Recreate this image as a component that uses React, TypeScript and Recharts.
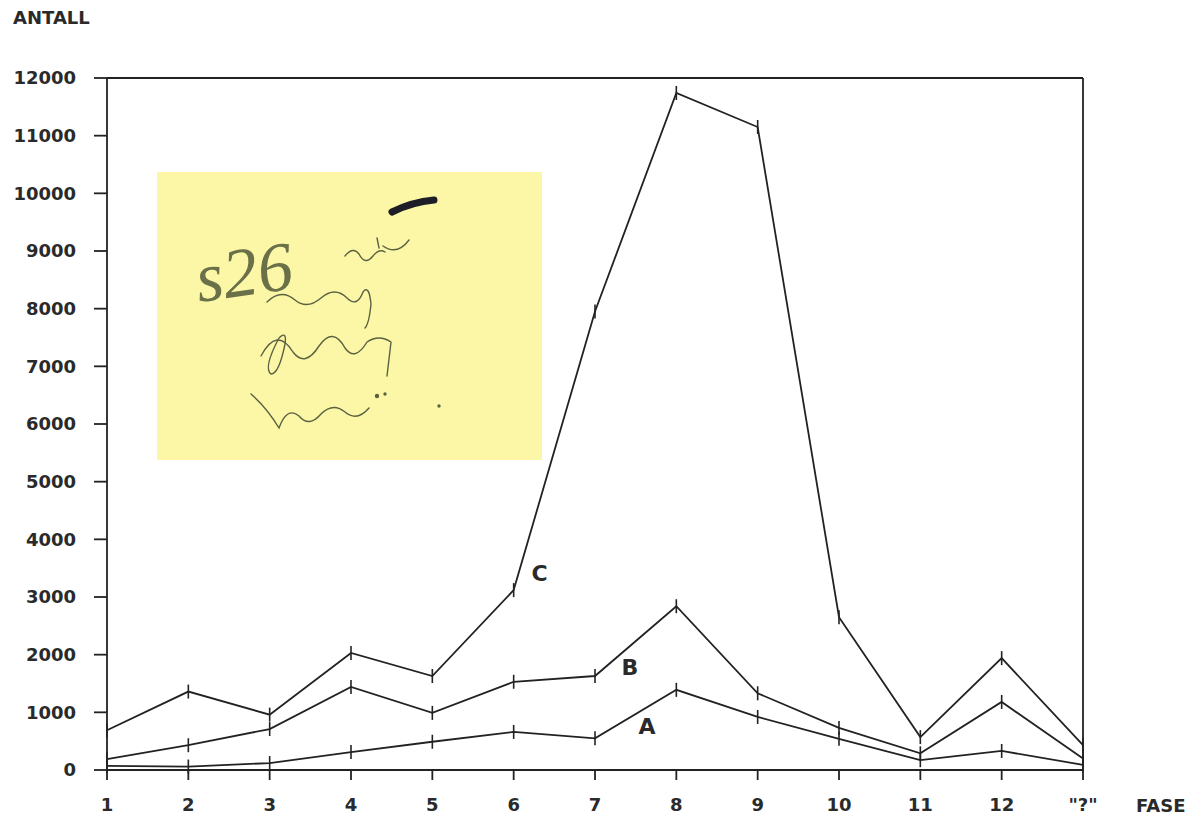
import React from "react";
import {
  LineChart,
  Line,
  XAxis,
  YAxis,
  ReferenceLine,
} from "recharts";

// Faser langs x-aksen
const phases = ["1", "2", "3", "4", "5", "6", "7", "8", "9", "10", "11", "12", '"?"'];

// Antall per fase, lest av figuren
const seriesA = [70, 60, 120, 310, 490, 660, 550, 1390, 920, 540, 170, 330, 90];
const seriesB = [190, 430, 710, 1440, 990, 1530, 1630, 2840, 1330, 730, 290, 1180, 200];
const seriesC = [690, 1360, 960, 2030, 1630, 3120, 7950, 11740, 11150, 2650, 570, 1940, 430];

const yTicks = [0, 1000, 2000, 3000, 4000, 5000, 6000, 7000, 8000, 9000, 10000, 11000, 12000];

const data = phases.map((fase, i) => ({
  fase,
  A: seriesA[i],
  B: seriesB[i],
  C: seriesC[i],
}));

const INK = "#222";
const FONT = "'DejaVu Sans', sans-serif";

const tickStyle = { fill: "#2a2a2a", fontSize: 18, fontWeight: 700, fontFamily: FONT };

// small vertical tick at each data point
const TickDot = (props: any) => {
  const { cx, cy, index } = props;
  if (cx == null || cy == null) return null;
  return <line key={`d-${index}`} x1={cx} y1={cy - 7} x2={cx} y2={cy + 7} stroke={INK} strokeWidth={1.6} />;
};

const seriesLabel = (letter: string, at: number, dx: number, dy: number) => (props: any) => {
  const { x, y, index } = props;
  if (index !== at) return null;
  return (
    <text
      key={`l-${letter}`}
      x={x + dx}
      y={y + dy}
      textAnchor="middle"
      dominantBaseline="central"
      fill="#2a2a2a"
      fontSize={22}
      fontWeight={700}
      fontFamily={FONT}
    >
      {letter}
    </text>
  );
};

function StickyNote() {
  return (
    <div
      style={{
        position: "absolute",
        left: 157,
        top: 172,
        width: 385,
        height: 288,
        background: "#fbf7a6",
      }}
    >
      <svg width={385} height={288} style={{ position: "absolute", left: 0, top: 0 }}>
        <text
          x={42}
          y={130}
          fontFamily="'Liberation Serif', serif"
          fontStyle="italic"
          fontSize={70}
          fill="#6a7048"
          transform="rotate(-8 42 130)"
        >
          s26
        </text>
        <path d="M235 40 q 20 -10 42 -12" stroke="#1e1e28" strokeWidth={7} strokeLinecap="round" fill="none" />
        <g stroke="#5b6142" strokeWidth={1.4} fill="none" strokeLinecap="round">
          <path d="M188 84 q 8 -10 14 -2 q 6 12 14 2 q 6 -8 12 -4 M220 66 l 2 10 M226 74 q 14 10 26 -6" />
          <path d="M110 130 q 14 -14 28 -2 q 12 10 26 -2 q 14 -12 26 0 q 10 10 16 -6 q 6 -8 8 12 q -2 20 -6 24" />
          <path d="M104 184 q 16 -30 32 -4 q 12 16 26 -6 q 14 -20 26 2 q 10 14 22 -6 q 12 -8 24 0 l -4 34" />
          <path d="M122 166 q -16 30 -8 36 q 8 0 14 -30 q 2 -14 -6 -6" />
          <path d="M94 222 q 16 14 28 34 q 8 -22 20 -12 q 10 12 22 -2 q 12 -12 24 -2 q 12 10 24 -4" />
          <circle cx={220} cy={224} r={1.5} fill="#5b6142" />
          <circle cx={228} cy={222} r={1} fill="#5b6142" />
          <circle cx={282} cy={234} r={1} fill="#5b6142" />
        </g>
      </svg>
    </div>
  );
}

export default function App() {
  return (
    <div style={{ position: "absolute", left: 0, top: 0, width: 1203, height: 818, background: "#fff" }}>
      <div
        style={{
          position: "absolute",
          left: 13,
          top: 7,
          fontFamily: FONT,
          fontWeight: 700,
          fontSize: 18,
          color: "#2a2a2a",
        }}
      >
        ANTALL
      </div>
      <div
        style={{
          position: "absolute",
          left: 1136,
          top: 795,
          fontFamily: FONT,
          fontWeight: 700,
          fontSize: 18,
          color: "#2a2a2a",
        }}
      >
        FASE
      </div>
      <LineChart
        width={1203}
        height={818}
        data={data}
        margin={{ top: 78, right: 120, left: 0, bottom: 8 }}
      >
        <XAxis
          dataKey="fase"
          type="category"
          height={40}
          axisLine={{ stroke: INK, strokeWidth: 1.8 }}
          tickLine={{ stroke: INK, strokeWidth: 1.8 }}
          tickSize={10}
          tickMargin={18}
          tick={tickStyle}
          interval={0}
          padding={{ left: 0, right: 0 }}
        />
        <YAxis
          width={107}
          domain={[0, 12000]}
          ticks={yTicks}
          interval={0}
          axisLine={{ stroke: INK, strokeWidth: 1.8 }}
          tickLine={{ stroke: INK, strokeWidth: 1.8 }}
          tickSize={13}
          tickMargin={18}
          tick={tickStyle}
        />
        <ReferenceLine y={12000} stroke={INK} strokeWidth={1.8} />
        <ReferenceLine x={'"?"'} stroke={INK} strokeWidth={1.8} />
        <Line
          dataKey="A"
          type="linear"
          stroke={INK}
          strokeWidth={1.8}
          dot={TickDot}
          activeDot={false}
          label={seriesLabel("A", 6, 52, -12)}
          isAnimationActive={false}
        />
        <Line
          dataKey="B"
          type="linear"
          stroke={INK}
          strokeWidth={1.8}
          dot={TickDot}
          activeDot={false}
          label={seriesLabel("B", 6, 35, -9)}
          isAnimationActive={false}
        />
        <Line
          dataKey="C"
          type="linear"
          stroke={INK}
          strokeWidth={1.8}
          dot={TickDot}
          activeDot={false}
          label={seriesLabel("C", 5, 26, -17)}
          isAnimationActive={false}
        />
      </LineChart>
      <StickyNote />
    </div>
  );
}
